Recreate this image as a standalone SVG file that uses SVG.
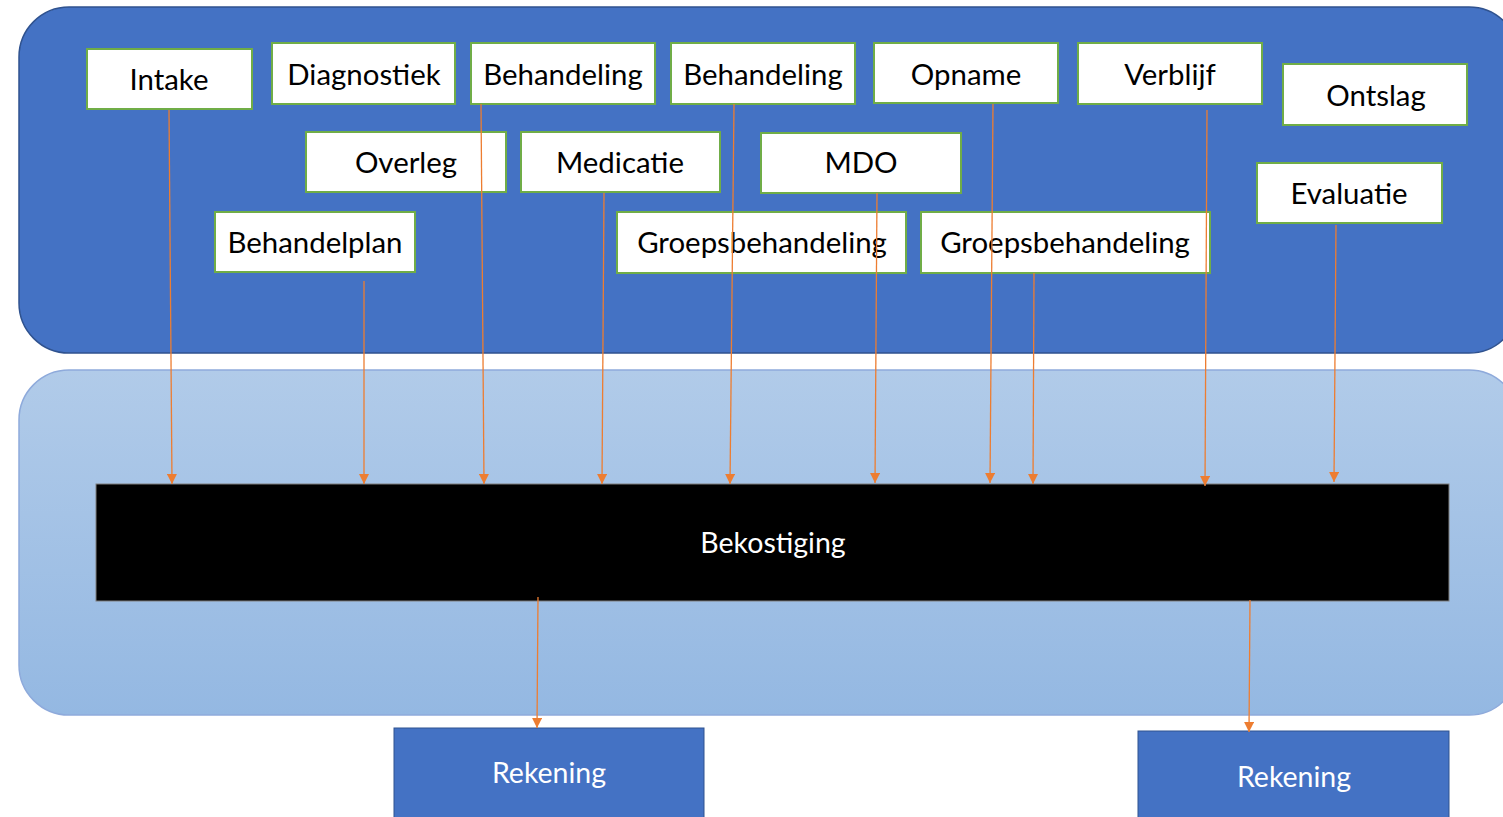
<svg xmlns="http://www.w3.org/2000/svg" width="1503" height="817" viewBox="0 0 1503 817">
<style>
.box{fill:#fff;stroke:#70AD47;stroke-width:2}
.lbl{font-family:Lato,"Open Sans","Liberation Sans",sans-serif;font-size:29.4px;fill:#000;text-anchor:middle}
.wl{font-family:Lato,"Open Sans","Liberation Sans",sans-serif;font-size:28.5px;fill:#fff;text-anchor:middle}
.rk{fill:#4472C4;stroke:#2F528F;stroke-width:1}
.con{stroke:#ED7D31;stroke-width:1.3;fill:none;marker-end:url(#ah)}
</style>
<defs>
<linearGradient id="g" x1="0" y1="0" x2="0" y2="1">
<stop offset="0" stop-color="#B1CBE9"/>
<stop offset="1" stop-color="#94B8E2"/>
</linearGradient>
<marker id="ah" viewBox="0 0 10 10" refX="10" refY="5" markerWidth="10" markerHeight="10" markerUnits="userSpaceOnUse" orient="auto">
<path d="M0,0 L10,5 L0,10 z" fill="#ED7D31"/>
</marker>
</defs>
<rect width="1503" height="817" fill="#fff"/>
<g id="top-container"><rect x="19" y="7" width="1500" height="346" rx="50" ry="50" fill="#4472C4" stroke="#2F528F" stroke-width="1.5"/></g>
<g id="bottom-container"><rect x="19" y="370" width="1500" height="345" rx="50" ry="50" fill="url(#g)" stroke="#8EAADB" stroke-width="1.5"/></g>
<g id="bekostiging"><rect x="96" y="484" width="1353" height="117" fill="#000" stroke="#7F7F7F" stroke-width="1"/><text class="wl" x="773" y="553">Bekostiging</text></g>
<g id="intake"><rect class="box" x="87" y="49" width="165" height="60"/><text class="lbl" x="169" y="90">Intake</text></g>
<g id="diagnostiek"><rect class="box" x="272" y="43" width="183" height="61"/><text class="lbl" x="364" y="85">Diagnostiek</text></g>
<g id="behandeling1"><rect class="box" x="471" y="43" width="184" height="61"/><text class="lbl" x="563" y="85">Behandeling</text></g>
<g id="behandeling2"><rect class="box" x="671" y="43" width="184" height="61"/><text class="lbl" x="763" y="85">Behandeling</text></g>
<g id="opname"><rect class="box" x="874" y="43" width="184" height="60"/><text class="lbl" x="966" y="85">Opname</text></g>
<g id="verblijf"><rect class="box" x="1078" y="43" width="184" height="61"/><text class="lbl" x="1170" y="85">Verblijf</text></g>
<g id="ontslag"><rect class="box" x="1283" y="64" width="184" height="61"/><text class="lbl" x="1376" y="106">Ontslag</text></g>
<g id="overleg"><rect class="box" x="306" y="132" width="200" height="60"/><text class="lbl" x="406" y="173">Overleg</text></g>
<g id="medicatie"><rect class="box" x="521" y="132" width="199" height="60"/><text class="lbl" x="620" y="173">Medicatie</text></g>
<g id="mdo"><rect class="box" x="761" y="133" width="200" height="60"/><text class="lbl" x="861" y="173">MDO</text></g>
<g id="evaluatie"><rect class="box" x="1257" y="163" width="185" height="60"/><text class="lbl" x="1349" y="204">Evaluatie</text></g>
<g id="behandelplan"><rect class="box" x="215" y="212" width="200" height="60"/><text class="lbl" x="315" y="253">Behandelplan</text></g>
<g id="groepsbehandeling1"><rect class="box" x="617" y="212" width="289" height="61"/><text class="lbl" x="762" y="253">Groepsbehandeling</text></g>
<g id="groepsbehandeling2"><rect class="box" x="921" y="212" width="289" height="61"/><text class="lbl" x="1065" y="253">Groepsbehandeling</text></g>
<g id="rekening1"><rect class="rk" x="394" y="728" width="310" height="100"/><text class="wl" x="549" y="783">Rekening</text></g>
<g id="rekening2"><rect class="rk" x="1138" y="731" width="311" height="100"/><text class="wl" x="1294" y="787">Rekening</text></g>
<g id="connectors">
<line class="con" x1="169" y1="110" x2="172" y2="484"/>
<line class="con" x1="364" y1="281" x2="364" y2="484"/>
<line class="con" x1="481" y1="104" x2="484" y2="484"/>
<line class="con" x1="604" y1="193" x2="602" y2="484"/>
<line class="con" x1="734" y1="104" x2="730" y2="484"/>
<line class="con" x1="877" y1="193" x2="875" y2="483"/>
<line class="con" x1="993" y1="104" x2="990" y2="483"/>
<line class="con" x1="1034" y1="273" x2="1033" y2="484"/>
<line class="con" x1="1207" y1="110" x2="1205" y2="486"/>
<line class="con" x1="1336" y1="225" x2="1334" y2="482"/>
<line class="con" x1="538" y1="597" x2="537" y2="728"/>
<line class="con" x1="1250" y1="600" x2="1249" y2="732"/>
</g>
</svg>
